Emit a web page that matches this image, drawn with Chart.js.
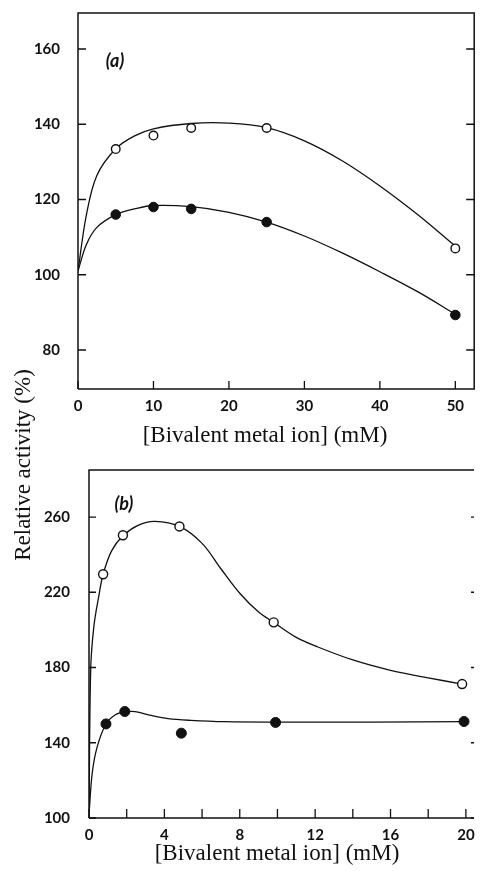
<!DOCTYPE html>
<html><head><meta charset="utf-8">
<script src="https://cdn.jsdelivr.net/npm/chart.js@4.4.1/dist/chart.umd.min.js"></script>
<style>
html,body{margin:0;padding:0;background:#fff;width:480px;height:871px;overflow:hidden}
canvas{position:absolute;left:0;top:0}
</style></head><body>
<canvas id="ca" width="480" height="871"></canvas>
<canvas id="cb" width="480" height="871"></canvas>
<script>
// ---------- Panel (a) ----------
const xTicksA = [0, 10, 20, 30, 40, 50];
const yTicksA = [80, 100, 120, 140, 160];
const concA = [5, 10, 15, 25, 50];
const openA = [133.4, 137, 139, 139, 107];
const filledA = [116, 118, 117.5, 114, 89.3];
const curveXA = [0, 1.1, 2.5, 5, 7.5, 10, 15, 20, 25, 30, 35, 40, 45, 50];
const curveOpenA = [101, 115.8, 126.4, 133.5, 136.9, 138.8, 140.2, 140.3, 139.1, 135.6, 130.3, 123.6, 116, 107.6];
const curveFilledA = [101, 108, 112.6, 116, 117.5, 118.4, 118.1, 116.6, 114, 110.3, 105.8, 100.8, 95.5, 89.5];

// ---------- Panel (b) ----------
const xTicksB = [0, 2, 4, 6, 8, 10, 12, 14, 16, 18, 20];
const xLabelsB = ['0', '', '4', '', '8', '', '12', '', '16', '', '20'];
const yTicksB = [100, 140, 180, 220, 260];
const concOpenB = [0.75, 1.8, 4.8, 9.8, 19.8];
const openB = [229.6, 250.3, 255, 204, 171.2];
const concFilledB = [0.9, 1.9, 4.9, 9.9, 19.9];
const filledB = [150, 156.6, 145.1, 150.8, 151.3];
const curveXOpenB = [0, 0.09, 0.26, 0.52, 0.75, 1.2, 1.8, 2.6, 3.5, 4.8, 6, 7, 8, 9, 9.8, 11, 12, 14, 16, 18, 19.8];
const curveOpenB = [100, 179, 202, 218, 229.6, 242, 250, 255.6, 257.7, 255, 246, 232.5, 219.5, 209.5, 204, 196, 191.5, 184, 178.5, 174.5, 171.2];
const curveXFilledB = [0, 0.17, 0.43, 0.9, 1.4, 1.9, 2.45, 3.3, 4.2, 5.4, 7.2, 10, 15, 19.9];
const curveFilledB = [102, 123.8, 137.7, 150, 154.9, 156.4, 156.6, 154.5, 152.8, 151.9, 151.2, 151, 151, 151.2];

const xTitle = '[Bivalent metal ion] (mM)';
const yTitle = 'Relative activity (%)';

const INK = '#111';
const TICK_FONT = { family: 'Lato', size: 15, weight: 'bold' };

function pts(xs, ys) { return xs.map((x, i) => ({ x: x, y: ys[i] })); }

function datasets(cx, cy, fx, fy, px, py, pfx, pfy, rOpen, rFill) {
  return [
    { data: pts(cx, cy), showLine: true, borderColor: INK, borderWidth: 1.3, pointRadius: 0, tension: 0.35, order: 3 },
    { data: pts(fx, fy), showLine: true, borderColor: INK, borderWidth: 1.3, pointRadius: 0, tension: 0.35, order: 3 },
    { data: pts(px, py), showLine: false, pointRadius: rOpen, pointBackgroundColor: '#fff', pointBorderColor: INK, pointBorderWidth: 1.4, order: 1 },
    { data: pts(pfx, pfy), showLine: false, pointRadius: rFill, pointBackgroundColor: INK, pointBorderColor: INK, pointBorderWidth: 1, order: 1 }
  ];
}

function fixY(width) {
  return function (s) { s.width = width; s.paddingTop = 0; s.paddingBottom = 0; s.paddingLeft = 0; s.paddingRight = 0; };
}
function fixX(height) {
  return function (s) { s.height = height; s.paddingTop = 0; s.paddingBottom = 0; s.paddingLeft = 0; s.paddingRight = 0; };
}
function setTicks(arr) { return function (s) { s.ticks = arr.map(v => ({ value: v })); }; }

function framePlugin(o) {
  return {
    id: 'frame',
    afterDraw(chart) {
      const ctx = chart.ctx, a = chart.chartArea, xs = chart.scales.x, ys = chart.scales.y;
      ctx.save();
      ctx.strokeStyle = INK;
      ctx.lineWidth = 1.5;
      ctx.beginPath();
      ctx.moveTo(a.left, a.bottom); ctx.lineTo(a.left, a.top); ctx.lineTo(a.right, a.top);
      if (o.rightSpine) ctx.lineTo(a.right, a.bottom); else ctx.moveTo(a.right, a.bottom);
      ctx.lineTo(a.left, a.bottom);
      ctx.stroke();
      ctx.lineWidth = 1.3;
      ctx.beginPath();
      xs.ticks.forEach(t => { const p = xs.getPixelForValue(t.value); ctx.moveTo(p, a.bottom); ctx.lineTo(p, a.bottom - o.xTick); });
      ys.ticks.forEach(t => {
        const p = ys.getPixelForValue(t.value);
        ctx.moveTo(a.left, p); ctx.lineTo(a.left + o.yTick, p);
        ctx.moveTo(a.right, p); ctx.lineTo(a.right - o.rTick, p);
      });
      ctx.stroke();
      ctx.fillStyle = INK;
      ctx.textAlign = 'center';
      ctx.textBaseline = 'middle';
      // panel letter
      ctx.font = 'italic bold 18px Lato';
      ctx.fillText(o.letter, xs.getPixelForValue(o.letterX), ys.getPixelForValue(o.letterY));
      // x axis title
      ctx.font = '23px "Liberation Serif"';
      ctx.fillText(xTitle, o.xTitle.x, o.xTitle.y);
      if (o.yLabel) {
        ctx.translate(o.yLabel.x, o.yLabel.y);
        ctx.rotate(-Math.PI / 2);
        ctx.font = '23px "Liberation Serif"';
        ctx.fillText(yTitle, 0, 0);
      }
      ctx.restore();
    }
  };
}

Chart.defaults.animation = false;

new Chart(document.getElementById('ca'), {
  type: 'scatter',
  data: { datasets: datasets(curveXA, curveOpenA, curveXA, curveFilledA, concA, openA, concA, filledA, 4.3, 4.8) },
  options: {
    responsive: false, devicePixelRatio: 1,
    layout: { padding: { top: 13, right: 3, left: 0, bottom: 422 } },
    plugins: { legend: { display: false }, tooltip: { enabled: false } },
    scales: {
      x: {
        type: 'linear', min: 0, max: 52.5,
        afterBuildTicks: setTicks(xTicksA), afterFit: fixX(60),
        grid: { display: false }, border: { display: false },
        ticks: { autoSkip: false, maxRotation: 0, padding: 0, color: INK, font: TICK_FONT }
      },
      y: {
        type: 'linear', min: 69.63, max: 169.57,
        afterBuildTicks: setTicks(yTicksA), afterFit: fixY(78),
        grid: { display: false }, border: { display: false },
        ticks: { autoSkip: false, padding: 10, color: INK, font: TICK_FONT }
      }
    }
  },
  plugins: [framePlugin({ rightSpine: true, xTick: 8, yTick: 8, rTick: 8, letter: '(a)', letterX: 4.9, letterY: 156.8, xTitle: { x: 265, y: 436 } })]
});

new Chart(document.getElementById('cb'), {
  type: 'scatter',
  data: { datasets: datasets(curveXOpenB, curveOpenB, curveXFilledB, curveFilledB, concOpenB, openB, concFilledB, filledB, 4.5, 5) },
  options: {
    responsive: false, devicePixelRatio: 1,
    layout: { padding: { top: 470, right: 0, left: 0, bottom: 5 } },
    plugins: { legend: { display: false }, tooltip: { enabled: false } },
    scales: {
      x: {
        type: 'linear', min: 0, max: 20.43,
        afterBuildTicks: setTicks(xTicksB), afterFit: fixX(48),
        grid: { display: false }, border: { display: false },
        ticks: { autoSkip: false, maxRotation: 0, padding: 0, color: INK, font: TICK_FONT,
                 callback: v => xLabelsB[xTicksB.indexOf(v)] }
      },
      y: {
        type: 'linear', min: 100, max: 285,
        afterBuildTicks: setTicks(yTicksB), afterFit: fixY(89),
        grid: { display: false }, border: { display: false },
        ticks: { autoSkip: false, padding: 11, color: INK, font: TICK_FONT }
      }
    }
  },
  plugins: [framePlugin({ rightSpine: false, xTick: 9, yTick: 7, rTick: 3, letter: '(b)', letterX: 1.85, letterY: 266.7, xTitle: { x: 277, y: 854 }, yLabel: { x: 24, y: 465 } })]
});
</script>
</body></html>
